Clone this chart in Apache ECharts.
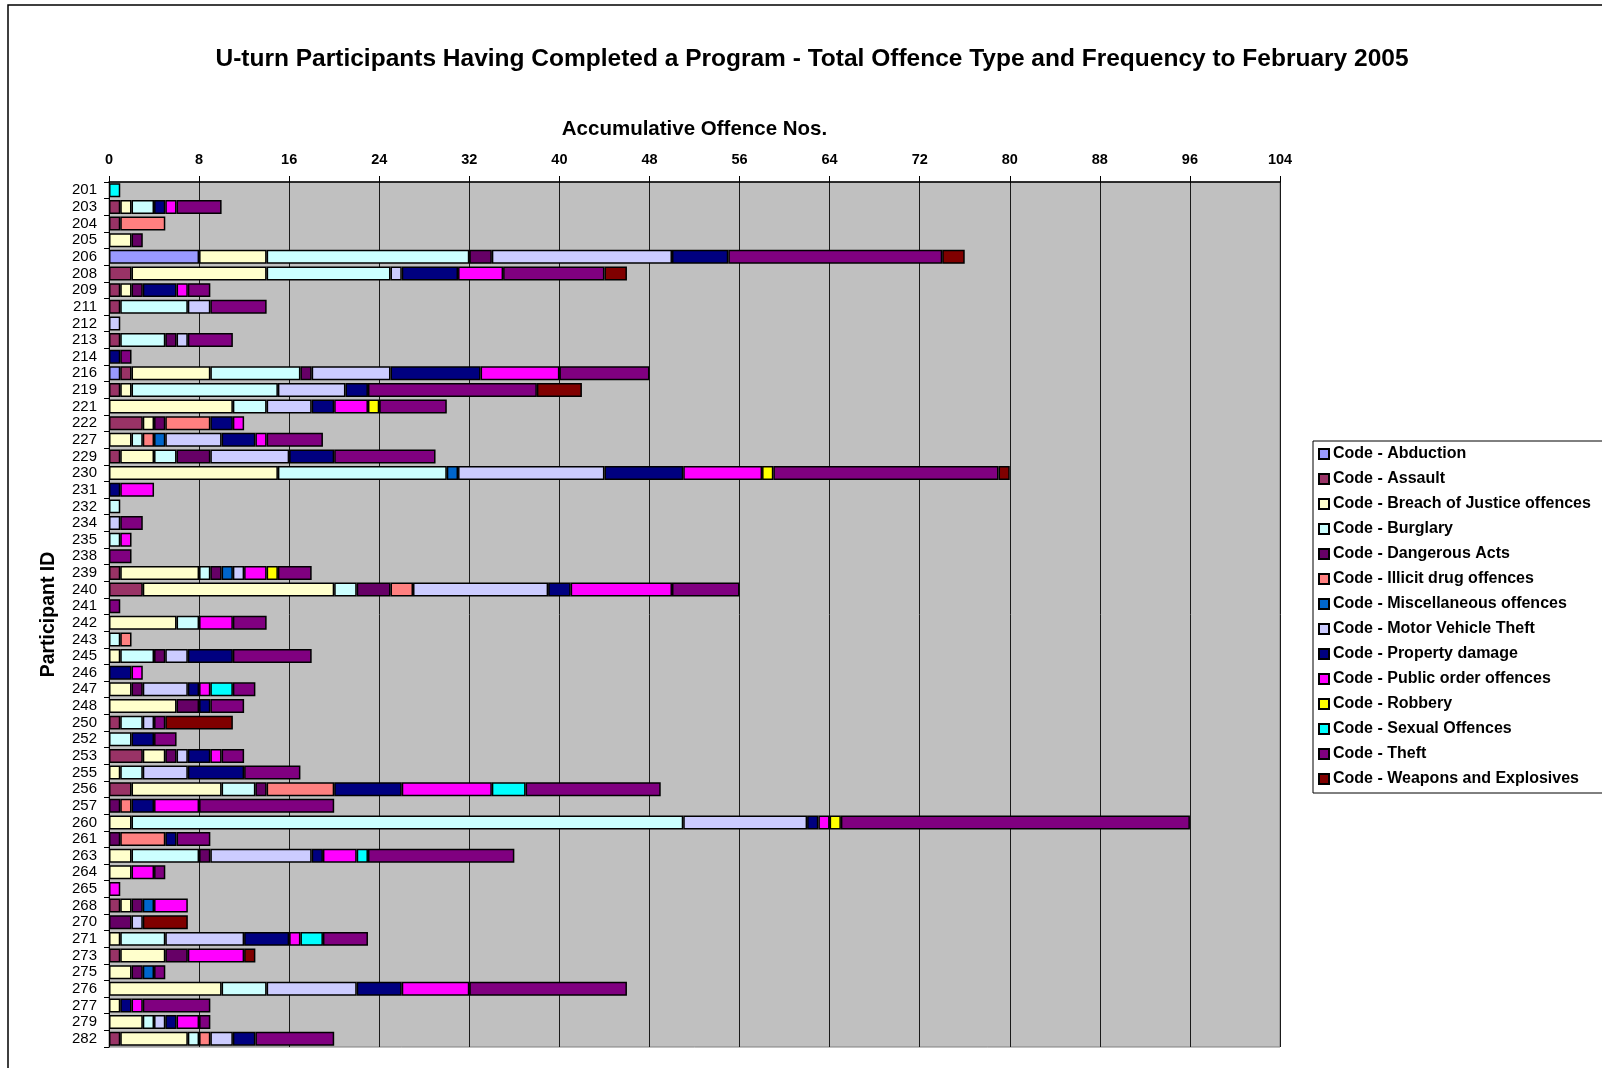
<!DOCTYPE html>
<html>
<head>
<meta charset="utf-8">
<title>U-turn Participants</title>
<script src="https://cdn.jsdelivr.net/npm/echarts@6/dist/echarts.min.js"></script>
<style>
  html, body { margin: 0; padding: 0; background: #fff; }
  #main { width: 1602px; height: 1068px; }
</style>
</head>
<body>
<div id="main"></div>
<script>
// participant ids, top to bottom
var participants = ['201','203','204','205','206','208','209','211','212','213',
	'214','216','219','221','222','227','229','230','231','232',
	'234','235','238','239','240','241','242','243','245','246',
	'247','248','250','252','253','255','256','257','260','261',
	'263','264','265','268','270','271','273','275','276','277',
	'279','282'];

var xTicks = [0, 8, 16, 24, 32, 40, 48, 56, 64, 72, 80, 88, 96, 104];

// offence counts per participant, same order as participants
var abduction   = [0,0,0,0,8,0,0,0,0,0, 0,1,0,0,0,0,0,0,0,0, 0,0,0,0,0,0,0,0,0,0, 0,0,0,0,0,0,0,0,0,0, 0,0,0,0,0,0,0,0,0,0, 0,0];
var assault     = [0,1,1,0,0,2,1,1,0,1, 0,1,1,0,3,0,1,0,0,0, 0,0,0,1,3,0,0,0,0,0, 0,0,1,0,3,0,2,0,0,0, 0,0,0,1,0,0,1,0,0,0, 0,1];
var breach      = [0,1,0,2,6,12,1,0,0,0, 0,7,1,11,1,2,3,15,0,0, 0,0,0,7,17,0,6,0,1,0, 2,6,0,0,2,1,8,0,2,0, 2,2,0,1,0,1,4,2,10,1, 3,6];
var burglary    = [0,2,0,0,18,11,0,6,0,4, 0,8,13,3,0,1,2,15,0,1, 0,1,0,1,2,0,2,1,3,0, 0,0,2,2,0,2,3,0,49,0, 6,0,0,0,0,4,0,0,4,0, 1,1];
var dangerous   = [0,0,0,1,2,0,1,0,0,1, 0,1,0,0,1,0,3,0,0,0, 0,0,0,1,3,0,0,0,1,0, 1,2,0,0,1,0,1,1,0,1, 1,0,0,1,2,0,2,1,0,0, 0,0];
var illicitDrug = [0,0,4,0,0,0,0,0,0,0, 0,0,0,0,4,1,0,0,0,0, 0,0,0,0,2,0,0,1,0,0, 0,0,0,0,0,0,6,1,0,4, 0,0,0,0,0,0,0,0,0,0, 0,1];
var misc        = [0,0,0,0,0,0,0,0,0,0, 0,0,0,0,0,1,0,1,0,0, 0,0,0,1,0,0,0,0,0,0, 0,0,0,0,0,0,0,0,0,0, 0,0,0,1,0,0,0,1,0,0, 0,0];
var motorTheft  = [0,0,0,0,16,1,0,2,1,1, 0,7,6,4,0,5,7,13,0,0, 1,0,0,1,12,0,0,0,2,0, 4,0,1,0,1,4,0,0,11,0, 9,0,0,0,1,7,0,0,8,0, 1,2];
var propDamage  = [0,1,0,0,5,5,3,0,0,0, 1,8,2,2,2,3,4,7,1,0, 0,0,0,0,2,0,0,0,4,2, 1,1,0,2,2,5,6,2,1,1, 1,0,0,0,0,4,0,0,4,1, 1,2];
var publicOrder = [0,1,0,0,0,4,1,0,0,0, 0,7,0,3,1,1,0,7,3,0, 0,1,0,2,9,0,3,0,0,1, 1,0,0,0,1,0,8,4,1,0, 3,2,1,3,0,1,5,0,6,1, 2,0];
var robbery     = [0,0,0,0,0,0,0,0,0,0, 0,0,0,1,0,0,0,1,0,0, 0,0,0,1,0,0,0,0,0,0, 0,0,0,0,0,0,0,0,1,0, 0,0,0,0,0,0,0,0,0,0, 0,0];
var sexual      = [1,0,0,0,0,0,0,0,0,0, 0,0,0,0,0,0,0,0,0,0, 0,0,0,0,0,0,0,0,0,0, 2,0,0,0,0,0,3,0,0,0, 1,0,0,0,0,2,0,0,0,0, 0,0];
var theft       = [0,4,0,0,19,9,2,5,0,4, 1,8,15,6,0,5,9,20,0,0, 2,0,2,3,6,1,3,0,7,0, 2,3,1,2,2,5,12,12,31,3, 13,1,0,0,0,4,0,1,14,6, 1,7];
var weapons     = [0,0,0,0,2,2,0,0,0,0, 0,0,4,0,0,0,0,1,0,0, 0,0,0,0,0,0,0,0,0,0, 0,0,6,0,0,0,0,0,0,0, 0,0,0,0,4,0,1,0,0,0, 0,0];

var offenceNames = ['Code - Abduction', 'Code - Assault', 'Code - Breach of Justice offences',
	'Code - Burglary', 'Code - Dangerous Acts', 'Code - Illicit drug offences',
	'Code - Miscellaneous offences', 'Code - Motor Vehicle Theft', 'Code - Property damage',
	'Code - Public order offences', 'Code - Robbery', 'Code - Sexual Offences',
	'Code - Theft', 'Code - Weapons and Explosives'];
var offenceColors = ['#9999FF', '#993366', '#FFFFCC', '#CCFFFF', '#660066', '#FF8080',
	'#0066CC', '#CCCCFF', '#000080', '#FF00FF', '#FFFF00', '#00FFFF', '#800080', '#800000'];
var offenceValues = [abduction, assault, breach, burglary, dangerous, illicitDrug, misc,
	motorTheft, propDamage, publicOrder, robbery, sexual, theft, weapons];

var FONT = 'Liberation Sans, Arial, sans-serif';

function buildSeries() {
	var list = [];
	for (var i = 0, len = offenceNames.length; i < len; i++) {
		list.push({
			name: offenceNames[i],
			type: 'bar',
			stack: 'total',
			barCategoryGap: '16%',
			itemStyle: {
				color: offenceColors[i],
				borderColor: '#000',
				borderWidth: 1.5
			},
			// a zero would still draw its border, so leave it empty
			data: offenceValues[i].map(function (v) { return v === 0 ? '-' : v; })
		});
	}
	return list;
}

function buildOption() {
	return {
		animation: false,
		backgroundColor: '#fff',
		title: {
			text: 'U-turn Participants Having Completed a Program - Total Offence Type and Frequency to February 2005',
			left: 807,
			top: 42,
			textAlign: 'center',
			textStyle: { fontFamily: FONT, fontSize: 24.5, fontWeight: 'bold', color: '#000' }
		},
		legend: {
			orient: 'vertical',
			left: 1313,
			top: 441,
			padding: [5, 40, 6, 5],
			itemGap: 9,
			itemWidth: 10,
			itemHeight: 10,
			icon: 'rect',
			backgroundColor: '#fff',
			borderColor: '#000',
			borderWidth: 1,
			data: offenceNames,
			textStyle: { fontFamily: FONT, fontSize: 16, fontWeight: 'bold', color: '#000', padding: [0, 0, 0, -1] }
		},
		grid: {
			left: 109,
			right: 322,
			top: 182,
			bottom: 21,
			show: true,
			backgroundColor: '#C0C0C0',
			borderColor: '#808080',
			borderWidth: 1
		},
		xAxis: {
			type: 'value',
			position: 'top',
			min: 0,
			max: 104,
			interval: 8,
			name: 'Accumulative Offence Nos.',
			nameLocation: 'middle',
			nameGap: 42,
			nameTextStyle: { fontFamily: FONT, fontSize: 20.5, fontWeight: 'bold', color: '#000' },
			axisLine: { show: true, lineStyle: { color: '#000', width: 1.5 } },
			axisTick: { show: true, length: 6, lineStyle: { color: '#000' } },
			axisLabel: {
				margin: 15,
				fontFamily: FONT, fontSize: 14.5, fontWeight: 'bold', color: '#000',
				formatter: function (v) { return xTicks.indexOf(v) >= 0 ? String(v) : ''; }
			},
			splitLine: { show: true, lineStyle: { color: '#1a1a1a', width: 1 } }
		},
		yAxis: {
			type: 'category',
			inverse: true,
			data: participants,
			name: 'Participant ID',
			nameLocation: 'middle',
			nameGap: 50,
			nameRotate: 90,
			nameTextStyle: { fontFamily: FONT, fontSize: 19.5, fontWeight: 'bold', color: '#000' },
			axisLine: { show: true, lineStyle: { color: '#000', width: 1 } },
			axisTick: { show: true, length: 5, lineStyle: { color: '#000' } },
			axisLabel: { interval: 0, margin: 12, fontFamily: FONT, fontSize: 15, color: '#000' },
			splitLine: { show: false }
		},
		graphic: [{
			// frame around the whole chart, runs off the right and bottom edge
			type: 'rect',
			shape: { x: 8, y: 5, width: 1700, height: 1200 },
			style: { fill: null, stroke: '#000', lineWidth: 1.5 },
			silent: true,
			z: -1
		}],
		series: buildSeries()
	};
}

var chart = echarts.init(document.getElementById('main'));
chart.setOption(buildOption());
</script>
</body>
</html>
